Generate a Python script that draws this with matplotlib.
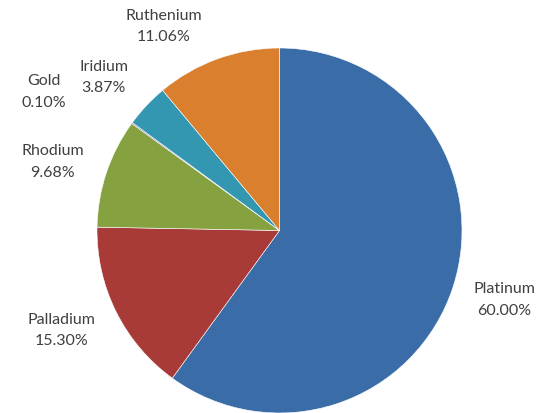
import numpy as np
import matplotlib.pyplot as plt

metals = ["Platinum", "Palladium", "Rhodium", "Gold", "Iridium", "Ruthenium"]
shares = [60.00, 15.30, 9.68, 0.10, 3.87, 11.06]
colors = ["#3A6DA7", "#A83A37", "#86A240", "#6D5391", "#3397B2", "#D97F2E"]

# label placement (radius in pie units, angle nudge in degrees)
label_r = [1.29, 1.31, 1.30, 1.50, 1.28, 1.29]
label_nudge = [1.0, -2.0, 1.5, 5.5, 2.0, 9.5]

W, H = 543, 414
cx, cy, R = 279.5, 231.5, 182.5

fig = plt.figure(figsize=(W / 100, H / 100), dpi=100)
ax = fig.add_axes([0, 0, 1, 1])
ax.axis("off")

wedges, _ = ax.pie(shares, colors=colors, startangle=90, counterclock=False,
                   radius=1.0, wedgeprops=dict(edgecolor="white", linewidth=0.4))
ax.set_xlim(-cx / R, (W - cx) / R)
ax.set_ylim(-(H - cy) / R, cy / R)
ax.set_aspect("auto")

for w, name, v, r, d in zip(wedges, metals, shares, label_r, label_nudge):
    ang = np.deg2rad((w.theta1 + w.theta2) / 2 + d)
    ax.text(r * np.cos(ang), r * np.sin(ang), f"{name}\n{v:.2f}%",
            ha="center", va="center", fontsize=11.5, color="#404040",
            family="Lato", linespacing=1.7)

fig.savefig("out.png", dpi=100)
